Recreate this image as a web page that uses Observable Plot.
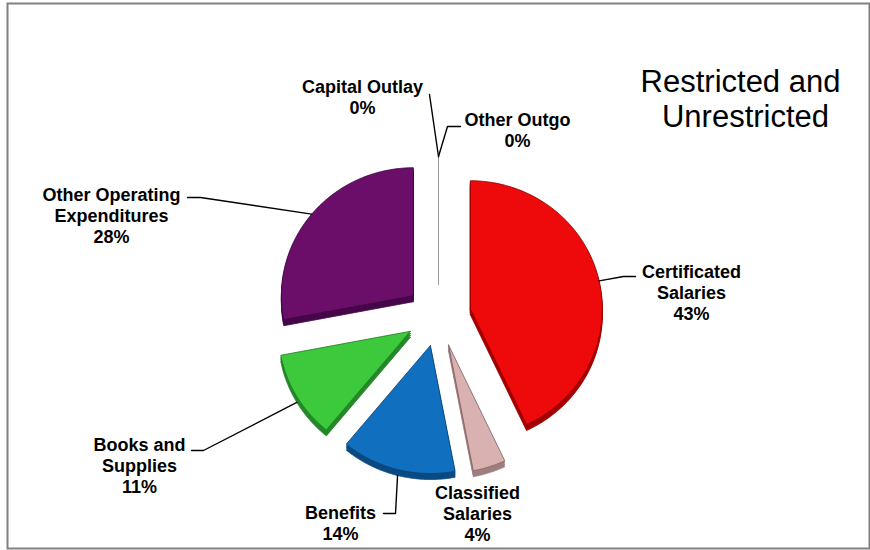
<!DOCTYPE html>
<html>
<head>
<meta charset="utf-8">
<script src="https://cdn.jsdelivr.net/npm/d3@7"></script>
<script src="https://cdn.jsdelivr.net/npm/@observablehq/plot@0.6"></script>
<style>
  body { margin: 0; background: #fff; }
  #chart { width: 870px; height: 550px; }
</style>
</head>
<body>
<div id="chart"></div>
<script>
// ---------- data ----------
const categories = ["Certificated Salaries", "Classified Salaries", "Benefits", "Books and Supplies",
                    "Other Operating Expenditures", "Capital Outlay", "Other Outgo"];
const percents = [43, 4, 14, 11, 28, 0, 0];
const labelLines = [["Certificated", "Salaries"], ["Classified", "Salaries"], ["Benefits"],
                    ["Books and", "Supplies"], ["Other Operating", "Expenditures"],
                    ["Capital Outlay"], ["Other Outgo"]];
const titleLines = ["Restricted and", "Unrestricted"];

// ---------- styles ----------
const topColors  = ["#EE0A0A", "#D9B1B1", "#106FBE", "#3CC93C", "#6A0E6A", "#999999", "#999999"];
const sideColors = ["#A30000", "#A07E7E", "#0A4A82", "#24882A", "#46064A", "#999999", "#999999"];
const edgeColors = ["#8A0000", "#7A6060", "#0A3F70", "#1E7A22", "#3C043F", "#999999", "#999999"];

// ---------- layout ----------
const G = {cx: 438, cy: 315, rx: 132, ry: 128, ex: 32.6, ey: 31, depth: 6, steps: 80};
const layout = {
  "Certificated Salaries":        {label: [691, 277], elbow: [[635, 276], [623, 276]]},
  "Classified Salaries":          {label: [477, 498]},
  "Benefits":                     {label: [340, 518], elbow: [[383, 513], [395, 513]]},
  "Books and Supplies":           {label: [139, 450], elbow: [[191, 450], [203, 450]]},
  "Other Operating Expenditures": {label: [111, 200], elbow: [[187, 197], [200, 197]]},
  "Capital Outlay":               {label: [362, 92],  elbow: [[429, 94]]},
  "Other Outgo":                  {label: [517, 125], elbow: [[460, 126], [447, 126]]}
};
const titleLayout = [[740, 91], [745, 126]];
const lineGap = 21, labelSize = 18, titleSize = 31;

// ---------- geometry from data ----------
const arcs = d3.pie().sort(null).value(d => d)(percents);
const mid = a => (a.startAngle + a.endAngle) / 2;
const apexOf = a => [G.cx + G.ex * Math.sin(mid(a)), G.cy - G.ey * Math.cos(mid(a))];
const onArc = (o, ang) => [o[0] + G.rx * Math.sin(ang), o[1] - G.ry * Math.cos(ang)];

const faces = [];
const zeroLines = [];
arcs.forEach((a, i) => {
  const o = apexOf(a);
  if (a.value === 0) {
    const p = onArc(o, a.startAngle);
    zeroLines.push({key: "z" + i, x: o[0], y: o[1]}, {key: "z" + i, x: p[0], y: p[1]});
    return;
  }
  const ring = [o];
  for (let k = 0; k <= G.steps; k++) {
    ring.push(onArc(o, a.startAngle + (a.endAngle - a.startAngle) * k / G.steps));
  }
  ring.push(o);
  [1, 0.66, 0.33].forEach(f => {
    ring.forEach(p => faces.push({key: `s${i}-${f}`, order: 0, x: p[0], y: p[1] + G.depth * f,
                                  fill: sideColors[i], stroke: sideColors[i]}));
  });
});
arcs.forEach((a, i) => {
  if (a.value === 0) return;
  const o = apexOf(a);
  const ring = [o];
  for (let k = 0; k <= G.steps; k++) {
    ring.push(onArc(o, a.startAngle + (a.endAngle - a.startAngle) * k / G.steps));
  }
  ring.push(o);
  ring.forEach(p => faces.push({key: "t" + i, x: p[0], y: p[1], fill: topColors[i], stroke: edgeColors[i]}));
});

// leader lines: layout elbows, ending on the slice edge at its bisector
const leaders = [];
arcs.forEach((a, i) => {
  const L = layout[categories[i]];
  if (!L.elbow) return;
  const o = apexOf(a);
  let end = onArc(o, mid(a) % (2 * Math.PI));
  if (Math.cos(mid(a)) < 0) end = [end[0], end[1] + G.depth];
  [...L.elbow, end].forEach(p => leaders.push({key: "l" + i, x: p[0], y: p[1]}));
});

// labels
const labels = [];
categories.forEach((c, i) => {
  const L = layout[c];
  const lines = [...labelLines[i], `${percents[i]}%`];
  lines.forEach((t, j) => labels.push({x: L.label[0], y: L.label[1] + j * lineGap - 0.32 * labelSize, text: t}));
});
const titles = titleLines.map((t, j) => ({x: titleLayout[j][0], y: titleLayout[j][1] - 0.32 * titleSize, text: t}));

const chart = Plot.plot({
  width: 870,
  height: 550,
  marginLeft: 7, marginRight: 1, marginTop: 3, marginBottom: 2,
  x: {type: "identity", axis: null},
  y: {type: "identity", axis: null},
  style: {fontFamily: "'Liberation Sans', Arial, sans-serif", background: "#fff"},
  marks: [
    Plot.frame({stroke: "#808080", strokeWidth: 2}),
    Plot.line(faces, {x: "x", y: "y", z: "key", fill: "fill", stroke: "stroke", strokeWidth: 0.8, curve: "linear"}),
    Plot.line(zeroLines, {x: "x", y: "y", z: "key", stroke: "#9a9a9a", strokeWidth: 1}),
    Plot.line(leaders, {x: "x", y: "y", z: "key", stroke: "#000", strokeWidth: 1.4}),
    Plot.text(labels, {x: "x", y: "y", text: "text", fontSize: labelSize, fontWeight: "bold", fill: "#000", textAnchor: "middle"}),
    Plot.text(titles, {x: "x", y: "y", text: "text", fontSize: titleSize, fill: "#000", textAnchor: "middle"})
  ]
});
document.getElementById("chart").appendChild(chart);
</script>
</body>
</html>
